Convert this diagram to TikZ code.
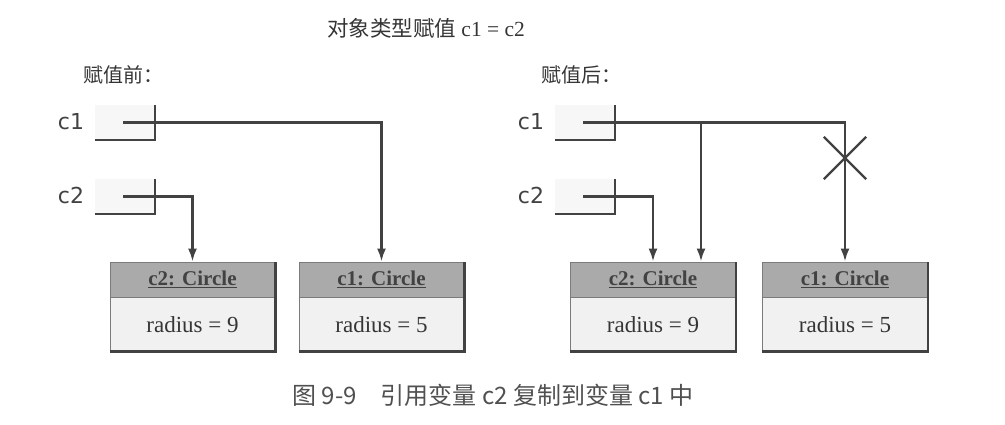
\documentclass[tikz,border=0pt]{standalone}
\usepackage{fontspec}
\setmainfont{Liberation Serif}
\newfontfamily\cjk{Noto Sans CJK SC}
\newfontfamily\varfont{DejaVu Sans}
\usetikzlibrary{arrows.meta}
\usetikzlibrary{shapes.misc}
\usetikzlibrary{positioning}
\definecolor{ink}{RGB}{66,66,66}
\definecolor{headgray}{RGB}{170,170,170}
\definecolor{bodygray}{RGB}{241,241,241}
\definecolor{slotgray}{RGB}{247,247,247}
\definecolor{captiongray}{RGB}{80,80,80}
\tikzset{
  slot/.style = {fill = slotgray, inner sep = 0, minimum width = 60, minimum height = 35},
  varname/.style = {font = \varfont\fontsize{22}{26}\selectfont, text = ink},
  objhead/.style = {fill = headgray, draw = ink!70, line width = 0.8, inner sep = 0,
                    minimum width = 165, minimum height = 35,
                    font = \bfseries\fontsize{21}{24}\selectfont, text = ink},
  objbody/.style = {fill = bodygray, draw = ink!70, line width = 0.8, inner sep = 0,
                    minimum width = 165, minimum height = 53,
                    font = \fontsize{23}{26}\selectfont, text = ink!80!black},
  ref/.style = {draw = ink, line width = 2.4, -{Latex[length=13, width=9]}},
  shade/.style = {draw = ink, line width = 2.6},
}

\begin{document}
\begin{tikzpicture}[x=1pt, y=-1pt]
      \useasboundingbox (0, 0) rectangle (1005, 425);

      \node [font = \fontsize{21.5}{26}\selectfont, text = ink!80!black] at (426, 28) (title) {{\cjk 对象类型赋值} c1 = c2};
      \node [anchor = west, font = \cjk\fontsize{20}{24}\selectfont, text = ink!80!black] at (80, 75) (before) {赋值前：};
      \node [anchor = west, font = \cjk\fontsize{20}{24}\selectfont, text = ink!80!black] at (538, 75) (after) {赋值后：};

      % left: before the assignment
      \node [varname] at (71, 122) (nameA1) {c1};
      \node [varname] at (71, 195) (nameA2) {c2};
      \node [slot] at (125, 122.5) (slotA1) {};
      \node [slot] at (125, 196.5) (slotA2) {};
      \draw [shade, line width = 1.8] (slotA1.south west) -- (slotA1.south east) -- (slotA1.north east);
      \draw [shade, line width = 1.8] (slotA2.south west) -- (slotA2.south east) -- (slotA2.north east);

      \node [objhead] at (192.5, 279.5) (headA2) {\underline{c2: Circle}};
      \node [objbody, below = 0 of headA2] (bodyA2) {radius = 9};
      \node [objhead] at (381.5, 279.5) (headA1) {\underline{c1: Circle}};
      \node [objbody, below = 0 of headA1] (bodyA1) {radius = 5};
      \draw [shade] (bodyA2.south west) -- (bodyA2.south east) -- (headA2.north east);
      \draw [shade] (bodyA1.south west) -- (bodyA1.south east) -- (headA1.north east);

      \draw [ref] ([xshift = -2]slotA1.center) -| (headA1.north);
      \draw [ref] ([xshift = -2]slotA2.center) -| (headA2.north);

      % right: after the assignment
      \node [varname] at (531, 122) (nameB1) {c1};
      \node [varname] at (531, 195) (nameB2) {c2};
      \node [slot] at (585, 122.5) (slotB1) {};
      \node [slot] at (585, 196.5) (slotB2) {};
      \draw [shade, line width = 1.8] (slotB1.south west) -- (slotB1.south east) -- (slotB1.north east);
      \draw [shade, line width = 1.8] (slotB2.south west) -- (slotB2.south east) -- (slotB2.north east);

      \node [objhead] at (653, 279.5) (headB2) {\underline{c2: Circle}};
      \node [objbody, below = 0 of headB2] (bodyB2) {radius = 9};
      \node [objhead] at (845, 279.5) (headB1) {\underline{c1: Circle}};
      \node [objbody, below = 0 of headB1] (bodyB1) {radius = 5};
      \draw [shade] (bodyB2.south west) -- (bodyB2.south east) -- (headB2.north east);
      \draw [shade] (bodyB1.south west) -- (bodyB1.south east) -- (headB1.north east);

      \coordinate (branch) at (701, 121.5);
      \draw [ref] ([xshift = -2]slotB1.center) -| (headB1.north);
      \draw [ref] (branch) -- (branch |- headB2.north);
      \draw [ref] ([xshift = -2]slotB2.center) -| (headB2.north);

      \node [cross out, draw = ink, line width = 2.4, minimum width = 40, minimum height = 40,
             inner sep = 0] at (845, 158) (broken) {};

      \node [font = \cjk\fontsize{24}{28}\selectfont, text = captiongray] at (493, 395) (caption)
        {图 9-9\quad 引用变量 c2 复制到变量 c1 中};
\end{tikzpicture}
\end{document}
